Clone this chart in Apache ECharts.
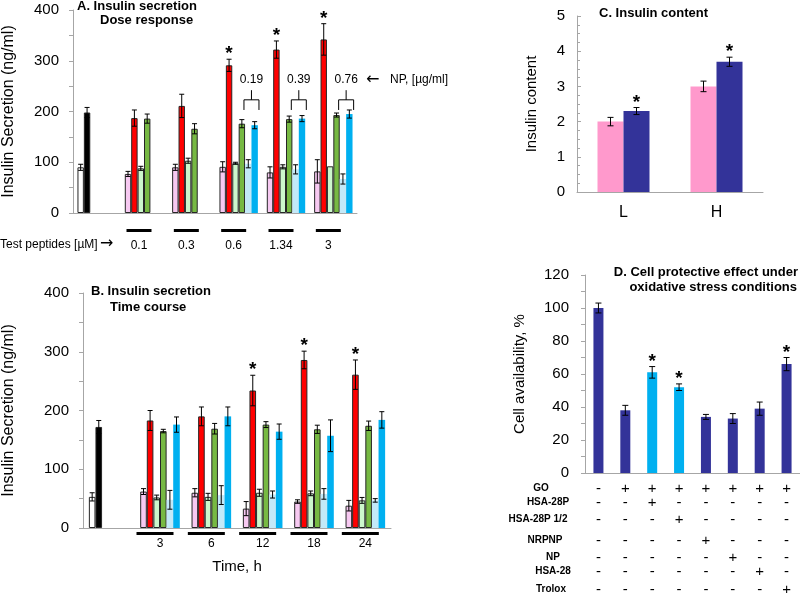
<!DOCTYPE html>
<html>
<head>
<meta charset="utf-8">
<script src="https://cdn.jsdelivr.net/npm/echarts@6/dist/echarts.min.js"></script>
<style>
html, body { margin: 0; padding: 0; background: #fff; }
#main { width: 800px; height: 595px; }
</style>
</head>
<body>
<div id="main"></div>
<script>
// ---- A. dose response (first slot of pink/red = control white/black)
var aCats = ['', '0.1', '0.3', '0.6', '1.34', '3'];
var aPink = [90, 77, 90, 91, 80, 82];
var aPinkErr = [6, 5, 6, 10, 11, 23];
var aRed = [198, 187, 211, 291, 322, 342];
var aRedErr = [10, 16, 23, 12, 17, 31];
var aLGreen = [null, 88, 103, 98, 91, 92];
var aLGreenErr = [0, 4, 5, 2, 4, 0];
var aGreen = [null, 186, 166, 176, 185, 193];
var aGreenErr = [0, 9, 10, 8, 6, 4];
var aLBlue = [null, null, null, 97, 86, 67];
var aLBlueErr = [0, 0, 0, 8, 9, 10];
var aBlue = [null, null, null, 173, 186, 195];
var aBlueErr = [0, 0, 0, 7, 6, 8];
var aStar = [0, 0, 0, 1, 1, 1];
var aNP = ['', '', '', '0.19', '0.39', '0.76'];

// ---- B. time course
var bCats = ['', '3', '6', '12', '18', '24'];
var bPink = [53, 62, 60, 33, 45, 38];
var bPinkErr = [7, 5, 7, 12, 3, 9];
var bRed = [172, 183, 190, 234, 286, 261];
var bRedErr = [11, 17, 16, 26, 15, 25];
var bLGreen = [null, 52, 53, 60, 59, 47];
var bLGreenErr = [0, 4, 6, 6, 4, 5];
var bGreen = [null, 165, 169, 176, 168, 174];
var bGreenErr = [0, 3, 9, 5, 7, 8];
var bLBlue = [null, 48, 56, 57, 58, 47];
var bLBlueErr = [0, 16, 16, 6, 9, 3];
var bBlue = [null, 176, 190, 164, 157, 184];
var bBlueErr = [0, 13, 16, 13, 27, 14];
var bStar = [0, 0, 0, 1, 1, 1];

// ---- C. insulin content
var cCats = ['L', 'H'];
var cPink = [2.0, 3.0];
var cPinkErr = [0.12, 0.15];
var cBlue = [2.3, 3.7];
var cBlueErr = [0.1, 0.13];
var cStar = [1, 1];

// ---- D. cell protection
var dVals = [100, 38, 61, 52, 34, 33, 39, 66];
var dErr = [3, 3, 3.5, 2, 1.5, 3, 4, 4];
var dStar = [0, 0, 1, 1, 0, 0, 0, 1];
var dLight = [0, 0, 1, 1, 0, 0, 0, 0];
var dRowNames = ['GO', 'HSA-28P', 'HSA-28P 1/2', 'NRPNP', 'NP', 'HSA-28', 'Trolox'];
var dRows = [
    ['-', '+', '+', '+', '+', '+', '+', '+'],
    ['-', '-', '+', '-', '-', '-', '-', '-'],
    ['-', '-', '-', '+', '-', '-', '-', '-'],
    ['-', '-', '-', '-', '+', '-', '-', '-'],
    ['-', '-', '-', '-', '-', '+', '-', '-'],
    ['-', '-', '-', '-', '-', '-', '+', '-'],
    ['-', '-', '-', '-', '-', '-', '-', '+']
];

var FONT = 'Arial, "Liberation Sans", sans-serif';
var AXC = '#a6a6a6';
var BORDER = '#262626';

function errSeries(gi, vals, errs, slot, nSlot, bw, cap, stars) {
    var items = [];
    for (var i = 0; i < vals.length; i++) {
        if (vals[i] == null) continue;
        items.push([i, vals[i], errs[i], stars ? stars[i] : 0]);
    }
    var off = (slot - (nSlot - 1) / 2) * bw;
    return {
        type: 'custom', xAxisIndex: gi, yAxisIndex: gi, z: 5, silent: true,
        data: items,
        renderItem: function (params, api) {
            var c = api.value(0), v = api.value(1), e = api.value(2);
            var x = api.coord([c, v])[0] + off;
            var yt = api.coord([c, v + e])[1];
            var yb = api.coord([c, v - e])[1];
            var st = { stroke: '#000', lineWidth: 1 };
            var kids = [];
            if (e > 0) {
                kids.push({ type: 'line', shape: { x1: x, y1: yt, x2: x, y2: yb }, style: st });
                kids.push({ type: 'line', shape: { x1: x - cap, y1: yt, x2: x + cap, y2: yt }, style: st });
                kids.push({ type: 'line', shape: { x1: x - cap, y1: yb, x2: x + cap, y2: yb }, style: st });
            }
            if (api.value(3)) {
                kids.push({ type: 'text', style: { text: '*', x: x, y: yt - 5, align: 'center', verticalAlign: 'middle',
                    font: 'bold 19px ' + FONT, fill: '#000' } });
            }
            return { type: 'group', children: kids };
        }
    };
}

function barSeries(gi, vals, color, bw, border, first) {
    var data = vals.map(function (v, i) {
        if (i === 0 && first) return { value: v, itemStyle: { color: first } };
        return v;
    });
    return {
        type: 'bar', xAxisIndex: gi, yAxisIndex: gi, barWidth: bw, barGap: '0%',
        data: data, silent: true,
        itemStyle: { color: color, borderColor: border ? BORDER : color, borderWidth: border ? 1 : 0 }
    };
}

function yAx(gi, max, interval, every, name, gap, margin, inside) {
    return {
        type: 'value', gridIndex: gi, min: 0, max: max, interval: interval,
        name: name, nameLocation: 'middle', nameGap: gap, nameRotate: 90,
        nameTextStyle: { fontSize: 16, fontFamily: FONT, color: '#000' },
        axisLine: { show: true, lineStyle: { color: AXC } },
        axisTick: { show: true, inside: !!inside, length: 4, lineStyle: { color: AXC } },
        splitLine: { show: false },
        axisLabel: { fontSize: 15, fontFamily: FONT, color: '#000', margin: margin,
            formatter: function (v) { return v % every === 0 ? String(v) : ''; } }
    };
}

var aw = 6.4, bwB = 6.6;
var series = [
    barSeries(0, aPink, '#f7c9f1', aw, true, '#ffffff'),
    barSeries(0, aRed, '#ff0000', aw, true, '#000000'),
    barSeries(0, aLGreen, '#ccf7cc', aw, true),
    barSeries(0, aGreen, '#77b943', aw, true),
    barSeries(0, aLBlue, '#c3e9f8', aw, false),
    barSeries(0, aBlue, '#00b0f0', aw, false),
    errSeries(0, aPink, aPinkErr, 0, 6, aw, 2.5),
    errSeries(0, aRed, aRedErr, 1, 6, aw, 2.5, aStar),
    errSeries(0, aLGreen, aLGreenErr, 2, 6, aw, 2.5),
    errSeries(0, aGreen, aGreenErr, 3, 6, aw, 2.5),
    errSeries(0, aLBlue, aLBlueErr, 4, 6, aw, 2.5),
    errSeries(0, aBlue, aBlueErr, 5, 6, aw, 2.5),
    // NP brackets over the blue pair
    {
        type: 'custom', xAxisIndex: 0, yAxisIndex: 0, silent: true,
        data: aNP.map(function (t, i) { return [i, t]; }).filter(function (d) { return d[1]; }),
        renderItem: function (params, api) {
            var c = api.value(0);
            var x = api.coord([c, 0])[0] + 2 * aw;
            var y0 = api.coord([c, 203])[1], y1 = api.coord([c, 223])[1], y2 = api.coord([c, 242])[1];
            var st = { stroke: '#000', lineWidth: 1, fill: null };
            return { type: 'group', children: [
                { type: 'polyline', shape: { points: [[x - 7.5, y0], [x - 7.5, y1], [x + 7.5, y1], [x + 7.5, y0]] }, style: st },
                { type: 'line', shape: { x1: x, y1: y1, x2: x, y2: y2 }, style: st },
                { type: 'text', style: { text: aNP[c], x: x, y: 80, align: 'center', verticalAlign: 'middle',
                    font: '12px ' + FONT, fill: '#000' } }
            ] };
        }
    },

    barSeries(1, bPink, '#f7c9f1', bwB, true, '#ffffff'),
    barSeries(1, bRed, '#ff0000', bwB, true, '#000000'),
    barSeries(1, bLGreen, '#ccf7cc', bwB, true),
    barSeries(1, bGreen, '#77b943', bwB, true),
    barSeries(1, bLBlue, '#c3e9f8', bwB, false),
    barSeries(1, bBlue, '#00b0f0', bwB, false),
    errSeries(1, bPink, bPinkErr, 0, 6, bwB, 2.5),
    errSeries(1, bRed, bRedErr, 1, 6, bwB, 2.5, bStar),
    errSeries(1, bLGreen, bLGreenErr, 2, 6, bwB, 2.5),
    errSeries(1, bGreen, bGreenErr, 3, 6, bwB, 2.5),
    errSeries(1, bLBlue, bLBlueErr, 4, 6, bwB, 2.5),
    errSeries(1, bBlue, bBlueErr, 5, 6, bwB, 2.5),

    barSeries(2, cPink, '#ff99cc', 26, false),
    barSeries(2, cBlue, '#333399', 26, false),
    errSeries(2, cPink, cPinkErr, 0, 2, 26, 3),
    errSeries(2, cBlue, cBlueErr, 1, 2, 26, 3, cStar),

    {
        type: 'bar', xAxisIndex: 3, yAxisIndex: 3, barWidth: 10, silent: true,
        data: dVals.map(function (v, i) { return { value: v, itemStyle: { color: dLight[i] ? '#00b0f0' : '#333399' } }; })
    },
    errSeries(3, dVals, dErr, 0, 1, 10, 3, dStar),
    // +/- table under panel D
    {
        type: 'custom', xAxisIndex: 3, yAxisIndex: 3, silent: true,
        data: dVals.map(function (v, i) { return [i, 0]; }),
        renderItem: function (params, api) {
            var p = api.coord([api.value(0), 0]);
            var offs = [16, 30, 47, 68, 85, 99, 117];
            var kids = dRows.map(function (row, r) {
                return { type: 'text', style: { text: row[params.dataIndex], x: p[0], y: p[1] + offs[r],
                    align: 'center', verticalAlign: 'middle', font: '15px ' + FONT, fill: '#000' } };
            });
            return { type: 'group', children: kids };
        }
    }
];

var rowY = [488, 502, 519, 540, 557, 571, 589];
var rowX = [541, 548, 538, 545, 553, 553, 551];
var graphics = [
    { type: 'text', left: 77, top: 0, style: { text: 'A. Insulin secretion', font: 'bold 13px ' + FONT, fill: '#000' } },
    { type: 'text', left: 100, top: 14, style: { text: 'Dose response', font: 'bold 13px ' + FONT, fill: '#000' } },
    { type: 'text', left: 366, top: 72, style: { text: '\u2190', font: '16px "DejaVu Sans", sans-serif', fill: '#000' } },
    { type: 'text', left: 390, top: 74, style: { text: 'NP, [\u00b5g/ml]', font: '12px ' + FONT, fill: '#000' } },
    { type: 'text', left: 0, top: 239, style: { text: 'Test peptides [\u00b5M]', font: '12px ' + FONT, fill: '#000' } },
    { type: 'text', left: 100, top: 236, style: { text: '\u2192', font: '16px "DejaVu Sans", sans-serif', fill: '#000' } },
    { type: 'text', left: 91, top: 285, style: { text: 'B. Insulin secretion', font: 'bold 13px ' + FONT, fill: '#000' } },
    { type: 'text', left: 110, top: 301, style: { text: 'Time course', font: 'bold 13px ' + FONT, fill: '#000' } },
    { type: 'text', left: 599, top: 7, style: { text: 'C. Insulin content', font: 'bold 13px ' + FONT, fill: '#000' } },
    { type: 'text', right: 2, top: 266, style: { text: 'D. Cell protective effect under', font: 'bold 13px ' + FONT, fill: '#000' } },
    { type: 'text', right: 3, top: 281, style: { text: 'oxidative stress conditions', font: 'bold 13px ' + FONT, fill: '#000' } }
];
dRowNames.forEach(function (n, i) {
    graphics.push({ type: 'text', x: rowX[i], y: rowY[i], style: { text: n, x: 0, y: 0, align: 'center', verticalAlign: 'middle',
        font: 'bold 10px ' + FONT, fill: '#000' } });
});

var chart = echarts.init(document.getElementById('main'), null, { renderer: 'canvas' });
var option = {
    animation: false,
    backgroundColor: '#ffffff',
    grid: [
        { left: 70, top: 10, width: 287, height: 203 },
        { left: 81, top: 293, width: 310, height: 235 },
        { left: 577, top: 16, width: 186, height: 176 },
        { left: 585, top: 275, width: 216, height: 198 }
    ],
    xAxis: [
        {
            type: 'category', gridIndex: 0, data: aCats,
            axisLine: { lineStyle: { color: AXC } }, axisTick: { show: false },
            axisLabel: {
                interval: 0, margin: 16, padding: [0, 10, 0, 0],
                formatter: function (v) { return v ? '{u| }\n{t|' + v + '}' : ''; },
                rich: {
                    u: { width: 25, height: 3, lineHeight: 3, backgroundColor: '#000', fontSize: 1 },
                    t: { fontSize: 12, fontFamily: FONT, color: '#000', lineHeight: 27 }
                }
            }
        },
        {
            type: 'category', gridIndex: 1, data: bCats,
            name: 'Time, h', nameLocation: 'middle', nameGap: 31,
            nameTextStyle: { fontSize: 15, fontFamily: FONT, color: '#000' },
            axisLine: { lineStyle: { color: AXC } }, axisTick: { show: false },
            axisLabel: {
                interval: 0, margin: 4,
                formatter: function (v) { return v ? '{u| }{s| }\n{t|' + v + '}' : ''; },
                rich: {
                    u: { width: 37, height: 3, lineHeight: 3, backgroundColor: '#000', fontSize: 1 },
                    s: { width: 10, height: 3, lineHeight: 3, fontSize: 1 },
                    t: { fontSize: 12, fontFamily: FONT, color: '#000', lineHeight: 17 }
                }
            }
        },
        {
            type: 'category', gridIndex: 2, data: cCats,
            axisLine: { lineStyle: { color: AXC } }, axisTick: { show: false },
            axisLabel: { fontSize: 16, fontFamily: FONT, color: '#000', margin: 13 }
        },
        {
            type: 'category', gridIndex: 3, data: dVals.map(function (v, i) { return String(i); }),
            axisLine: { lineStyle: { color: AXC } }, axisTick: { show: false },
            axisLabel: { show: false }
        }
    ],
    yAxis: [
        yAx(0, 400, 50, 100, 'Insulin Secretion (ng/ml)', 56, 14),
        yAx(1, 400, 50, 100, 'Insulin Secretion (ng/ml)', 66, 14),
        (function () {
            var y = yAx(2, 5, 1, 1, 'Insulin content', 38, 12, true);
            y.nameTextStyle.fontSize = 15;
            y.minorTick = { show: true, splitNumber: 4, length: 3, lineStyle: { color: AXC } };
            return y;
        })(),
        (function () {
            var y = yAx(3, 120, 10, 20, 'Cell availability, %', 58, 16);
            y.nameTextStyle.fontSize = 15;
            return y;
        })()
    ],
    graphic: graphics,
    series: series
};
option && chart.setOption(option);
</script>
</body>
</html>
